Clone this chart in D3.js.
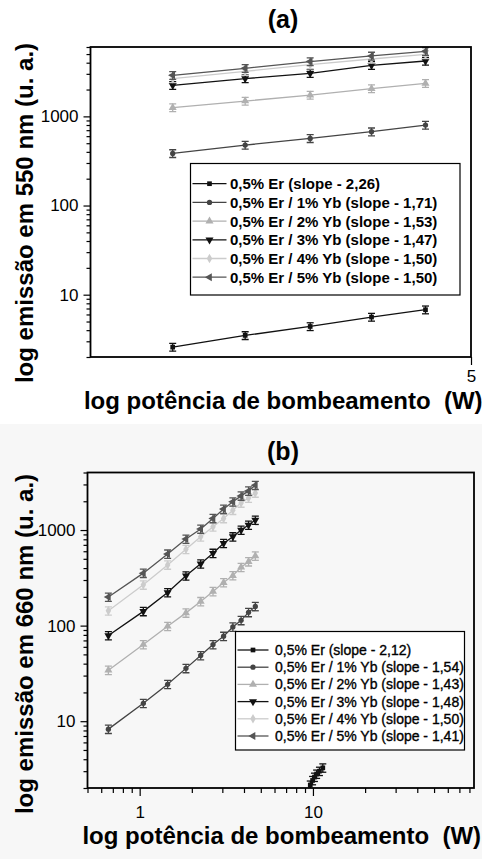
<!DOCTYPE html>
<html>
<head>
<meta charset="utf-8">
<script src="https://cdn.jsdelivr.net/npm/d3@7"></script>
<style>
  body { margin: 0; background: #fff; }
  svg { display: block; font-family: "Liberation Sans", Arial, sans-serif; }
</style>
</head>
<body>
<svg id="chart" width="482" height="859"></svg>
<script>
// panel (a) - emission at 550 nm
const powerA = [2.58, 3.03, 3.50, 4.01, 4.52];
const erA  = [2.58, 3.49, 4.40, 5.61, 6.78];
const yb1A = [384, 476, 566, 673, 798];
const yb2A = [1253, 1486, 1734, 2048, 2349];
const yb3A = [2230, 2650, 3040, 3740, 4180];
const yb4A = [2650, 3200, 3800, 4400, 4950];
const yb5A = [2890, 3462, 4120, 4760, 5370];
const slopesA = ["2,26", "1,71", "1,53", "1,47", "1,50", "1,50"];

// panel (b) - emission at 660 nm
const powerB = [0.66, 1.05, 1.45, 1.85, 2.25, 2.65, 3.05, 3.45, 3.85, 4.25, 4.65];
const powerErB = [9.65, 9.95, 10.2, 10.5, 10.9, 11.4];
const erB  = [2.15, 2.4, 2.6, 2.8, 3.0, 3.25];
const yb1B = [8.26, 15.4, 24.3, 35.7, 48.7, 63.4, 77.5, 96.9, 113.5, 137.6, 158.9];
const yb2B = [34.2, 63.4, 98.4, 136, 179, 228, 282, 334, 408, 467, 536];
const yb3B = [78.7, 141, 222, 332, 443, 572, 726, 852, 1000, 1127, 1271];
const yb4B = [143, 267, 432, 629, 852, 1083, 1324, 1615, 1924, 2168, 2448];
const yb5B = [199, 354, 562, 806, 1024, 1324, 1656, 1973, 2277, 2567, 2942];
const slopesB = ["2,12", "1,54", "1,43", "1,48", "1,50", "1,41"];

const sampleNames = ["0,5% Er", "0,5% Er / 1% Yb", "0,5% Er / 2% Yb",
  "0,5% Er / 3% Yb", "0,5% Er / 4% Yb", "0,5% Er / 5% Yb"];
const yTickLabels = [10, 100, 1000];
const xTickLabelsA = [5];
const xTickLabelsB = [1, 10];
const errFrac = 0.1;   // relative size of the error bars

// marker styles, one per sample
const colors = ["#111", "#444", "#b0b0b0", "#111", "#cccccc", "#555"];
const symbols = [
  { type: d3.symbolSquare, rot: 0, size: 22 },
  { type: d3.symbolCircle, rot: 0, size: 22 },
  { type: d3.symbolTriangle, rot: 0, size: 28 },
  { type: d3.symbolTriangle, rot: 180, size: 28 },
  { type: d3.symbolDiamond, rot: 0, size: 26 },
  { type: d3.symbolTriangle, rot: -90, size: 28 }
];

const svg = d3.select('#chart');

// light grey backdrop behind panel (b)
svg.append("rect")
  .attr("x", 0).attr("y", 424).attr("width", 482).attr("height", 435)
  .attr("fill", "#f7f7f7");

drawPanel({
  id: "a", title: "(a)", titleY: 28,
  left: 90.5, right: 471, top: 47, bottom: 357,
  xDomain: [2.15, 5], yDomain: [2, 6000],
  xTicks: xTickLabelsA, xMinor: false, xLabelY: 382,
  xs: [powerA, powerA, powerA, powerA, powerA, powerA],
  ys: [erA, yb1A, yb2A, yb3A, yb4A, yb5A],
  slopes: slopesA,
  yLabel: "log emissão em 550 nm (u. a.)", yLabelCenter: 213, xAxisLabelY: 408.5,
  legend: { x: 190.5, y: 163.5, w: 269.5, h: 131.5, row0: 183.7, step: 18.7,
            lineX0: 192.5, lineX1: 226.5, textX: 230, bold: true, size: 15 }
});

drawPanel({
  id: "b", title: "(b)", titleY: 460,
  left: 87.5, right: 474, top: 472.5, bottom: 788,
  xDomain: [0.5, 85], yDomain: [2, 4000],
  xTicks: xTickLabelsB, xMinor: true, xLabelY: 818,
  xs: [powerErB, powerB, powerB, powerB, powerB, powerB],
  ys: [erB, yb1B, yb2B, yb3B, yb4B, yb5B],
  slopes: slopesB,
  yLabel: "log emissão em 660 nm (u. a.)", yLabelCenter: 644, xAxisLabelY: 844,
  legend: { x: 235.5, y: 631.5, w: 229, h: 118.5, row0: 650, step: 17.2,
            lineX0: 237.5, lineX1: 268.5, textX: 275, bold: false, size: 14 }
});

function isMajor(d) {
  return Math.abs(Math.log10(d) - Math.round(Math.log10(d))) < 1e-6;
}

function drawPanel(p) {
  const g = svg.append("g");

  const x = d3.scaleLog().domain(p.xDomain).range([p.left, p.right]);
  const y = d3.scaleLog().domain(p.yDomain).range([p.bottom, p.top]);

  // y axis: labelled decades, short minor ticks outside the frame
  const yAxis = g.append("g")
    .attr("transform", `translate(${p.left},0)`)
    .call(d3.axisLeft(y)
      .tickValues(y.ticks())
      .tickSize(7)
      .tickPadding(5)
      .tickFormat(d => yTickLabels.includes(d) ? d : ""));
  yAxis.select(".domain").remove();
  yAxis.selectAll(".tick line")
    .attr("stroke", "#000")
    .attr("stroke-width", 1.2)
    .attr("x2", d => isMajor(d) ? -7 : -4);
  yAxis.selectAll("text")
    .attr("font-family", '"Liberation Sans", Arial, sans-serif')
    .attr("font-size", 17)
    .attr("fill", "#000");

  // x axis
  const xVals = p.xMinor ? x.ticks() : p.xTicks;
  const xAxis = g.append("g")
    .attr("transform", `translate(0,${p.bottom})`)
    .call(d3.axisBottom(x)
      .tickValues(xVals)
      .tickSize(8)
      .tickPadding(4)
      .tickFormat(d => p.xTicks.includes(d) ? d : ""));
  xAxis.select(".domain").remove();
  xAxis.selectAll(".tick line")
    .attr("stroke", "#000")
    .attr("stroke-width", 1.2)
    .attr("y2", d => (p.xTicks.includes(d) || isMajor(d)) ? 8 : 5);
  xAxis.selectAll("text")
    .attr("font-family", '"Liberation Sans", Arial, sans-serif')
    .attr("font-size", 17)
    .attr("fill", "#000")
    .attr("dy", null)
    .attr("y", p.xLabelY - p.bottom);

  // clip the data to the frame
  g.append("clipPath")
    .attr("id", "clip-" + p.id)
    .append("rect")
    .attr("x", p.left).attr("y", p.top)
    .attr("width", p.right - p.left).attr("height", p.bottom - p.top);

  const plot = g.append("g").attr("clip-path", `url(#clip-${p.id})`);

  const line = d3.line()
    .x(d => x(d[0]))
    .y(d => y(d[1]));

  p.ys.forEach((vals, i) => {
    const pts = vals.map((v, j) => [p.xs[i][j], v]);
    const s = plot.append("g");

    s.append("path")
      .datum(pts)
      .attr("fill", "none")
      .attr("stroke", colors[i])
      .attr("stroke-width", 1.3)
      .attr("d", line);

    // error bars
    const eb = s.selectAll(".eb").data(pts).enter().append("g");
    eb.append("line")
      .attr("x1", d => x(d[0])).attr("x2", d => x(d[0]))
      .attr("y1", d => y(d[1] * (1 + errFrac)))
      .attr("y2", d => y(d[1] * (1 - errFrac)));
    eb.append("line")
      .attr("x1", d => x(d[0]) - 3.5).attr("x2", d => x(d[0]) + 3.5)
      .attr("y1", d => y(d[1] * (1 + errFrac)))
      .attr("y2", d => y(d[1] * (1 + errFrac)));
    eb.append("line")
      .attr("x1", d => x(d[0]) - 3.5).attr("x2", d => x(d[0]) + 3.5)
      .attr("y1", d => y(d[1] * (1 - errFrac)))
      .attr("y2", d => y(d[1] * (1 - errFrac)));
    eb.selectAll("line")
      .attr("stroke", colors[i])
      .attr("stroke-width", 1.3);

    s.selectAll(".mk").data(pts).enter().append("path")
      .attr("d", d3.symbol().type(symbols[i].type).size(symbols[i].size))
      .attr("transform", d => `translate(${x(d[0])},${y(d[1])}) rotate(${symbols[i].rot})`)
      .attr("fill", colors[i]);
  });

  // frame
  g.append("rect")
    .attr("x", p.left).attr("y", p.top)
    .attr("width", p.right - p.left).attr("height", p.bottom - p.top)
    .attr("fill", "none")
    .attr("stroke", "#000")
    .attr("stroke-width", 1.8);

  // legend
  const L = p.legend;
  const lg = g.append("g");
  lg.append("rect")
    .attr("x", L.x).attr("y", L.y).attr("width", L.w).attr("height", L.h)
    .attr("fill", "#fff")
    .attr("stroke", "#000")
    .attr("stroke-width", 1.2);

  sampleNames.forEach((name, i) => {
    const ry = L.row0 + i * L.step;
    lg.append("line")
      .attr("x1", L.lineX0).attr("x2", L.lineX1)
      .attr("y1", ry).attr("y2", ry)
      .attr("stroke", colors[i])
      .attr("stroke-width", 1.3);
    lg.append("path")
      .attr("d", d3.symbol().type(symbols[i].type).size(symbols[i].size))
      .attr("transform", `translate(${(L.lineX0 + L.lineX1) / 2},${ry}) rotate(${symbols[i].rot})`)
      .attr("fill", colors[i]);
    lg.append("text")
      .attr("x", L.textX).attr("y", ry)
      .attr("dy", "0.36em")
      .attr("font-size", L.size)
      .attr("font-weight", L.bold ? "bold" : "normal")
      .attr("fill", "#000")
      .attr("stroke", L.bold ? null : "#000")
      .attr("stroke-width", L.bold ? null : 0.35)
      .text(`${name} (slope - ${p.slopes[i]})`);
  });

  // titles
  g.append("text")
    .attr("x", 283).attr("y", p.titleY)
    .attr("text-anchor", "middle")
    .attr("font-size", 25)
    .attr("font-weight", "bold")
    .text(p.title);

  g.append("text")
    .attr("transform", `translate(33,${p.yLabelCenter}) rotate(-90)`)
    .attr("text-anchor", "middle")
    .attr("font-size", 24)
    .attr("font-weight", "bold")
    .text(p.yLabel);

  g.append("text")
    .attr("x", (p.left + 480) / 2 - 2).attr("y", p.xAxisLabelY)
    .attr("text-anchor", "middle")
    .attr("font-size", 24)
    .attr("font-weight", "bold")
    .style("white-space", "pre")
    .text("log potência de bombeamento  (W)");
}
</script>
</body>
</html>
